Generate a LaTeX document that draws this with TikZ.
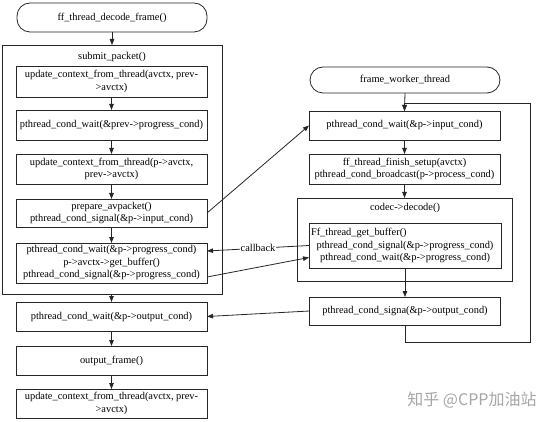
\documentclass[tikz,border=0pt]{standalone}
\usepackage{fontspec}
\setmainfont{Liberation Serif}
\newfontfamily\cjk{Noto Sans CJK SC}
\usetikzlibrary{arrows.meta,calc}
\tikzset{
  ln/.style={draw=black!85, line width=0.8pt},
  box/.style={ln, rectangle, align=center, inner sep=1pt, outer sep=0pt, font=\fontsize{10.4}{12.5}\selectfont},
  lbox/.style={box, minimum width=191pt},
  stadium/.style={box, rounded corners=13pt},
  frame/.style={ln, rectangle, inner sep=0pt, outer sep=0pt},
  ttl/.style={font=\fontsize{10.4}{12.5}\selectfont, inner sep=1pt},
  arr/.style={ln, -{Triangle[length=6pt,width=4.5pt]}},
}
\begin{document}
\begin{tikzpicture}[x=1pt,y=-1pt]
\useasboundingbox (0,0) rectangle (554,422);
% left column
\node[stadium, minimum width=190pt, minimum height=29pt] (start) at (112,17.5) {ff\_thread\_decode\_frame()};
\node[frame, minimum width=220pt, minimum height=249pt] (submit) at (112,169.5) {};
\node[ttl] (subt) at (112,57) {submit\_packet()};
\node[lbox, minimum height=31pt] (b1) at (111.5,81.5) {update\_context\_from\_thread(avctx, prev-\\>avctx)};
\node[lbox, minimum height=30pt] (b2) at (111.5,125) {pthread\_cond\_wait(\&prev->progress\_cond)};
\node[lbox, minimum height=30pt] (b3) at (111.5,169) {update\_context\_from\_thread(p->avctx,\\prev->avctx)};
\node[lbox, minimum height=28pt] (b4) at (111.5,213) {prepare\_avpacket()\\pthread\_cond\_signal(\&p->input\_cond)};
\node[lbox, minimum height=40pt] (b5) at (111.5,263) {pthread\_cond\_wait(\&p->progress\_cond)\\p->avctx->get\_buffer()\\pthread\_cond\_signal(\&p->progress\_cond)};
\node[lbox, minimum height=29pt] (b6) at (111.5,316.5) {pthread\_cond\_wait(\&p->output\_cond)};
\node[lbox, minimum height=29pt] (b7) at (111.5,360.5) {output\_frame()};
\node[lbox, minimum height=29pt] (b8) at (111.5,403.5) {update\_context\_from\_thread(avctx, prev-\\>avctx)};
% right column
\node[stadium, minimum width=190pt, minimum height=26pt] (rstart) at (405,80) {frame\_worker\_thread};
\node[lbox, minimum height=29pt] (r1) at (404.5,125.5) {pthread\_cond\_wait(\&p->input\_cond)};
\node[lbox, minimum height=30pt] (r2) at (404.5,169) {ff\_thread\_finish\_setup(avctx)\\pthread\_cond\_broadcast(p->process\_cond)};
\node[frame, minimum width=215pt, minimum height=83pt] (codec) at (404.5,239.5) {};
\node[ttl] (codect) at (405,208) {codec->decode()};
\node[box, minimum width=192pt, minimum height=45pt, text width=188pt] (inner) at (405,245.5) {Ff\_thread\_get\_buffer()\hfill\null\\pthread\_cond\_signal(\&p->progress\_cond)\\pthread\_cond\_wait(\&p->progress\_cond)};
\node[lbox, minimum height=28pt] (r4) at (405,311) {pthread\_cond\_signa(\&p->output\_cond)};
\coordinate (lb) at (530,342);
\coordinate (lt) at (530,103);
% watermark
\node[font=\cjk\fontsize{16}{18}\selectfont, text=black!35, inner sep=0pt] (wm) at (472,400) {知乎 @CPP加油站};
% left arrows
\draw[arr] (start.south) -- (submit.north -| start.south);
\draw[arr] (b1) -- (b2);
\draw[arr] (b2) -- (b3);
\draw[arr] (b3) -- (b4);
\draw[arr] (b4) -- (b5);
\draw[arr] (submit.south -| b6.north) -- (b6.north);
\draw[arr] (b6) -- (b7);
\draw[arr] (b7) -- (b8);
% right arrows
\draw[arr] (rstart.south) -- (r1.north);
\draw[arr] (r1) -- (r2);
\draw[arr] (r2.south) -- (codec.north -| r2.south);
\draw[arr] (inner.south) -- (r4.north);
\draw[arr] (r4.south) |- (lb) -- (lt) -| (r1.north);
% cross arrows
\draw[arr] (b4.east) -- (r1.west);
\draw[arr] (inner.west) -- node[midway, fill=white, inner sep=1pt, font=\fontsize{10.4}{12}\selectfont] (cb) {callback} ([yshift=12pt]b5.east);
\draw[arr] ([yshift=-14pt]b5.east) -- ([yshift=-12pt]inner.west);
\draw[arr] (r4.west) -- (b6.east);
\end{tikzpicture}
\end{document}
